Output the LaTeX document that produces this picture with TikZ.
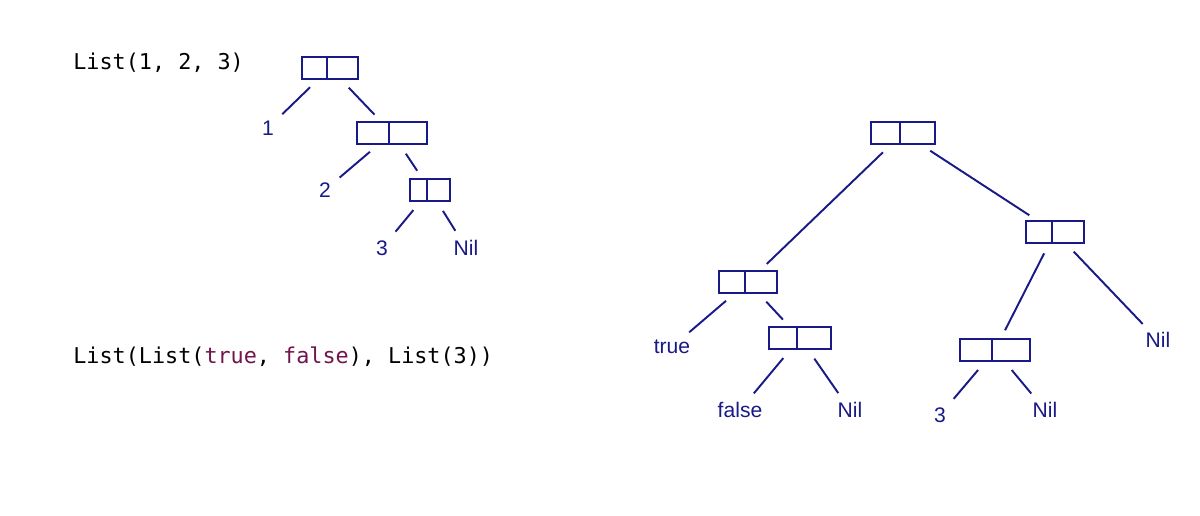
\documentclass[tikz,border=0pt]{standalone}
\usepackage{fontspec}
\newfontfamily\codefont{DejaVu Sans Mono}
\definecolor{ink}{RGB}{25,25,135}
\definecolor{kw}{RGB}{115,20,75}
\begin{document}
\begin{tikzpicture}[x=0.02cm,y=-0.02cm,
  cell/.style={draw=ink,line width=1.1pt,minimum width=#1*0.02cm,minimum height=0.44cm,inner sep=0pt,
    path picture={\draw[ink,line width=1.1pt] ([xshift=-0.06cm]path picture bounding box.north) -- ([xshift=-0.06cm]path picture bounding box.south);}},
  cell/.default=56,
  lbl/.style={text=ink,font=\fontspec{Liberation Sans}\large,inner sep=1pt},
  edge/.style={draw=ink,line width=1.1pt,shorten <=6pt,shorten >=5pt},
  code/.style={anchor=west,font=\codefont\fontsize{12.4pt}{14pt}\selectfont,inner sep=0pt}]
\useasboundingbox (0,0) rectangle (1200,516);
\node[code] (c1) at (73,63) {List(1, 2, 3)};
\node[code] (c2) at (73,357) {List(List(\textcolor{kw}{true}, \textcolor{kw}{false}), List(3))};
% tree 1
\node[cell=56] (a1) at (330,68) {};
\node[lbl] (l1) at (268,128) {1};
\node[cell=70] (a2) at (392,133) {};
\node[lbl] (l2) at (325,190) {2};
\node[cell=40] (a3) at (430,190) {};
\node[lbl] (l3) at (382,248) {3};
\node[lbl] (n1) at (466,248) {Nil};
\draw[edge] (a1) -- (l1); \draw[edge] (a1) -- (a2);
\draw[edge] (a2) -- (l2); \draw[edge] (a2) -- (a3);
\draw[edge] (a3) -- (l3); \draw[edge] (a3) -- (n1);
% tree 2
\node[cell=64] (b0) at (903,133) {};
\node[cell=58] (b1) at (748,282) {};
\node[cell=58] (b2) at (1055,232) {};
\node[lbl] (t) at (672,347) {true};
\node[cell=62] (b3) at (800,338) {};
\node[lbl] (f) at (740,410) {false};
\node[lbl] (n2) at (850,410) {Nil};
\node[cell=70] (b4) at (995,350) {};
\node[lbl] (l4) at (940,415) {3};
\node[lbl] (n3) at (1045,410) {Nil};
\node[lbl] (n4) at (1158,340) {Nil};
\draw[edge] (b0) -- (b1); \draw[edge] (b0) -- (b2);
\draw[edge] (b1) -- (t); \draw[edge] (b1) -- (b3);
\draw[edge] (b3) -- (f); \draw[edge] (b3) -- (n2);
\draw[edge] (b2) -- (b4); \draw[edge] (b2) -- (n4);
\draw[edge] (b4) -- (l4); \draw[edge] (b4) -- (n3);
\end{tikzpicture}
\end{document}
